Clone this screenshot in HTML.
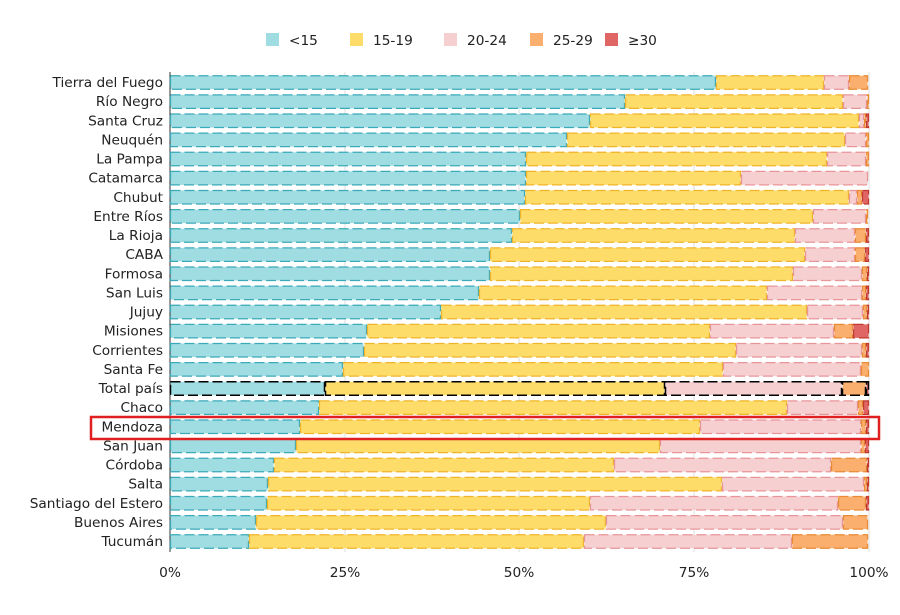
<!DOCTYPE html>
<html><head><meta charset="utf-8"><style>
body{margin:0;background:#fff;}
svg text{font-family:"DejaVu Sans","Liberation Sans",sans-serif;font-size:13.7px;fill:#222;}
</style></head><body>
<svg id="s" width="900" height="610" xmlns="http://www.w3.org/2000/svg"></svg>
<script>
const s=document.getElementById('s');
const data=[
["Tierra del Fuego",[716,824,849,868,869]],
["Río Negro",[625,843,867,869,869]],
["Santa Cruz",[590,859,864,866,869]],
["Neuquén",[567,845,866,869,869]],
["La Pampa",[526,827,866,869,869]],
["Catamarca",[526,741,868,869,869]],
["Chubut",[525,849,857,862,869]],
["Entre Ríos",[520,813,866,868,869]],
["La Rioja",[512,795,855,866,869]],
["CABA",[490,805,855,865,869]],
["Formosa",[490,793,862,867,869]],
["San Luis",[479,767,862,866,869]],
["Jujuy",[441,807,863,867,869]],
["Misiones",[367,710,834,853,869]],
["Corrientes",[364,736,862,866,869]],
["Santa Fe",[343,723,861,869,869]],
["Total país",[325,665,842,866,869]],
["Chaco",[319,787,858,863,869]],
["Mendoza",[300,700,861,866,869]],
["San Juan",[296,660,861,865,869]],
["Córdoba",[274,614,831,867,869]],
["Salta",[268,722,864,867,869]],
["Santiago del Estero",[267,590,838,866,869]],
["Buenos Aires",[256,606,843,868,869]],
["Tucumán",[249,584,792,868,869]]];
const fill=["#a0dde3","#fedc6a","#f6cfd0","#fbaf6e","#e06666"];
const stroke=["#3aa9b8","#f0b429","#e8959a","#e98a35","#c0392b"];
let h='';
[345,519,694,869].forEach(x=>h+=`<line x1="${x}" y1="72" x2="${x}" y2="552" stroke="#ddd"/>`);
h+=`<line x1="170" y1="72" x2="170" y2="552" stroke="#333"/>`;
data.forEach((d,i)=>{
 const cy=82.5+i*19.125, y=cy-6.75;
 h+=`<text x="163" y="${cy+4.5}" text-anchor="end">${d[0]}</text>`;
 let x0=170;
 d[1].forEach((x1,k)=>{
  if(x1>x0){
   const tot=d[0]=="Total país";
   h+=`<rect x="${x0+0.5}" y="${y}" width="${x1-x0-1}" height="13.5" fill="${fill[k]}" stroke="${tot?'#000':stroke[k]}" stroke-width="${tot?1.5:1.3}" stroke-dasharray="10 4"/>`;
  }
  x0=x1;
 });
});
h+=`<rect x="91" y="417" width="788" height="22" fill="none" stroke="#e02020" stroke-width="2.5"/>`;
[["0%",170],["25%",345],["50%",519],["75%",694],["100%",869]].forEach(t=>h+=`<text x="${t[1]}" y="577" text-anchor="middle">${t[0]}</text>`);
[["<15",266],["15-19",350],["20-24",444],["25-29",530],["≥30",605]].forEach((l,k)=>{
 h+=`<rect x="${l[1]}" y="33" width="13" height="13" fill="${fill[k]}"/><text x="${l[1]+23}" y="45">${l[0].replace('<','&lt;')}</text>`;
});
s.innerHTML=h;
</script>
</body></html>
